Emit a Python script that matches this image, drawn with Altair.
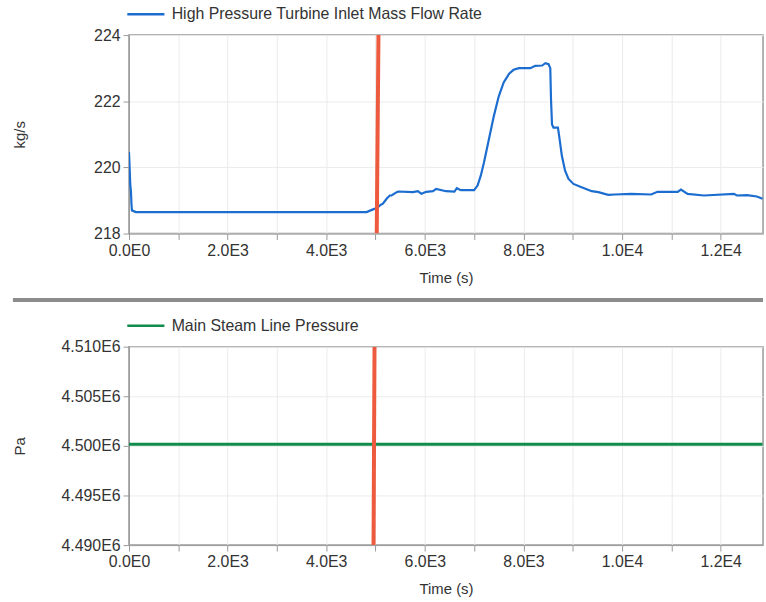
import altair as alt
import pandas as pd

FONT = "Liberation Sans"

# ---- data ----
hp_time = [0, 10, 25, 40, 50, 60, 140, 4820, 4950, 5030, 5090, 5150, 5225, 5290, 5325,
           5430, 5460, 5760, 5860, 5930, 6030, 6165, 6230, 6430, 6600, 6650, 6730, 7000,
           7070, 7135, 7200, 7300, 7400, 7500, 7600, 7710, 7800, 7910, 8140, 8240, 8380,
           8445, 8510, 8545, 8560, 8580, 8610, 8700, 8725, 8780, 8845, 8915, 9015, 9180,
           9385, 9520, 9720, 9850, 10190, 10590, 10720, 11130, 11195, 11330, 11660, 12270,
           12330, 12535, 12735, 12850]
hp_flow = [220.46, 220.1, 219.5, 219.26, 218.9, 218.7, 218.65, 218.65, 218.73, 218.77, 218.85, 218.9,
           219.05, 219.15, 219.15, 219.25, 219.27, 219.25, 219.28, 219.2, 219.26, 219.28, 219.35,
           219.28, 219.27, 219.37, 219.31, 219.31, 219.45, 219.75, 220.15, 220.85, 221.55,
           222.15, 222.57, 222.83, 222.95, 223.0, 223.0, 223.07, 223.08, 223.15, 223.12,
           223.0, 222.05, 221.3, 221.2, 221.2, 220.95, 220.35, 219.9, 219.65, 219.5, 219.4,
           219.28, 219.25, 219.17, 219.18, 219.2, 219.18, 219.26, 219.26, 219.33, 219.2,
           219.15, 219.2, 219.15, 219.16, 219.12, 219.05]

msl_time = [0, 12850]
msl_pressure = [4500170, 4500170]

cursor_time_top = [5060, 5025]
cursor_val_top = [224, 218]
cursor_time_bot = [4980, 4960]
cursor_val_bot = [4.51e6, 4.49e6]

x_ticks = list(range(0, 13000, 1000))
y_ticks_top = [218, 219, 220, 221, 222, 223, 224]
y_ticks_bot = [4.49e6, 4.495e6, 4.5e6, 4.505e6, 4.51e6]

HP_NAME = "High Pressure Turbine Inlet Mass Flow Rate"
MSL_NAME = "Main Steam Line Pressure"
BLUE = "#1c6dd0"
GREEN = "#0f8c4c"
RED = "#ee5a3d"

W, H = 639, 200
XDOM = [0, 12860]

hp_df = pd.DataFrame({"t": hp_time, "v": hp_flow, "s": HP_NAME})
msl_df = pd.DataFrame({"t": msl_time, "v": msl_pressure, "s": MSL_NAME})
cur_top = pd.DataFrame({"t": cursor_time_top, "v": cursor_val_top})
cur_bot = pd.DataFrame({"t": cursor_time_bot, "v": cursor_val_bot})

x_label_expr = "datum.value % 2000 == 0 ? replace(upper(format(datum.value, '.1e')), '+', '') : ''"

def x_axis():
    return alt.Axis(values=x_ticks, labelExpr=x_label_expr, title="Time (s)",
                    labelFlush=False, labelOverlap=False, grid=True)

def legend():
    return alt.Legend(orient="none", legendX=-3, legendY=-41, title=None,
                      symbolType="stroke", symbolSize=1400, symbolStrokeWidth=2.5,
                      labelOffset=6, labelFontSize=16, labelFont=FONT, labelColor="#333",
                      labelLimit=0)

top_line = alt.Chart(hp_df).mark_line(strokeWidth=2.2, clip=True).encode(
    x=alt.X("t:Q", scale=alt.Scale(domain=XDOM, nice=False), axis=x_axis()),
    y=alt.Y("v:Q", scale=alt.Scale(domain=[218, 224], nice=False),
            axis=alt.Axis(values=y_ticks_top, title="kg/s", titleX=-102,
                          labelExpr="datum.value % 2 == 0 ? datum.label : ''", labelOverlap=False)),
    color=alt.Color("s:N", scale=alt.Scale(domain=[HP_NAME], range=[BLUE]), legend=legend()),
)
top_cursor = alt.Chart(cur_top).mark_line(color=RED, strokeWidth=4, clip=True).encode(
    x="t:Q", y="v:Q")
top = alt.layer(top_line, top_cursor).properties(width=W, height=H)

bot_line = alt.Chart(msl_df).mark_line(strokeWidth=3, clip=True).encode(
    x=alt.X("t:Q", scale=alt.Scale(domain=XDOM, nice=False), axis=x_axis()),
    y=alt.Y("v:Q", scale=alt.Scale(domain=[4.49e6, 4.51e6], nice=False, zero=False),
            axis=alt.Axis(values=y_ticks_bot, title="Pa", titleX=-102,
                          labelExpr="replace(upper(format(datum.value, '.3e')), '+', '')",
                          labelOverlap=False)),
    color=alt.Color("s:N", scale=alt.Scale(domain=[MSL_NAME], range=[GREEN]), legend=legend()),
)
bot_cursor = alt.Chart(cur_bot).mark_line(color=RED, strokeWidth=4, clip=True).encode(
    x="t:Q", y="v:Q")
separator = alt.Chart(pd.DataFrame({"a": [0]})).mark_rule(color="#8c8c8c", strokeWidth=4).encode(
    x=alt.value(-117), x2=alt.value(W), y=alt.value(-47))
bot = alt.layer(bot_line, bot_cursor, separator).properties(width=W, height=H)

chart = alt.vconcat(top, bot, spacing=11).resolve_scale(color="independent").properties(
    padding={"left": 10, "top": -9, "right": 0, "bottom": 3}
).configure_view(stroke="#999", strokeWidth=1.5).configure_axis(
    labelFont=FONT, titleFont=FONT, labelFontSize=16, titleFontSize=15,
    labelColor="#333", titleColor="#333", titleFontWeight="normal",
    gridColor="#ebebeb", gridWidth=1, domainColor="#999", tickColor="#999",
    tickSize=6, labelPadding=3, titlePadding=12,
).configure_legend(labelFont=FONT)

chart.save("out.html", embed_options={"renderer": "svg", "actions": False})
